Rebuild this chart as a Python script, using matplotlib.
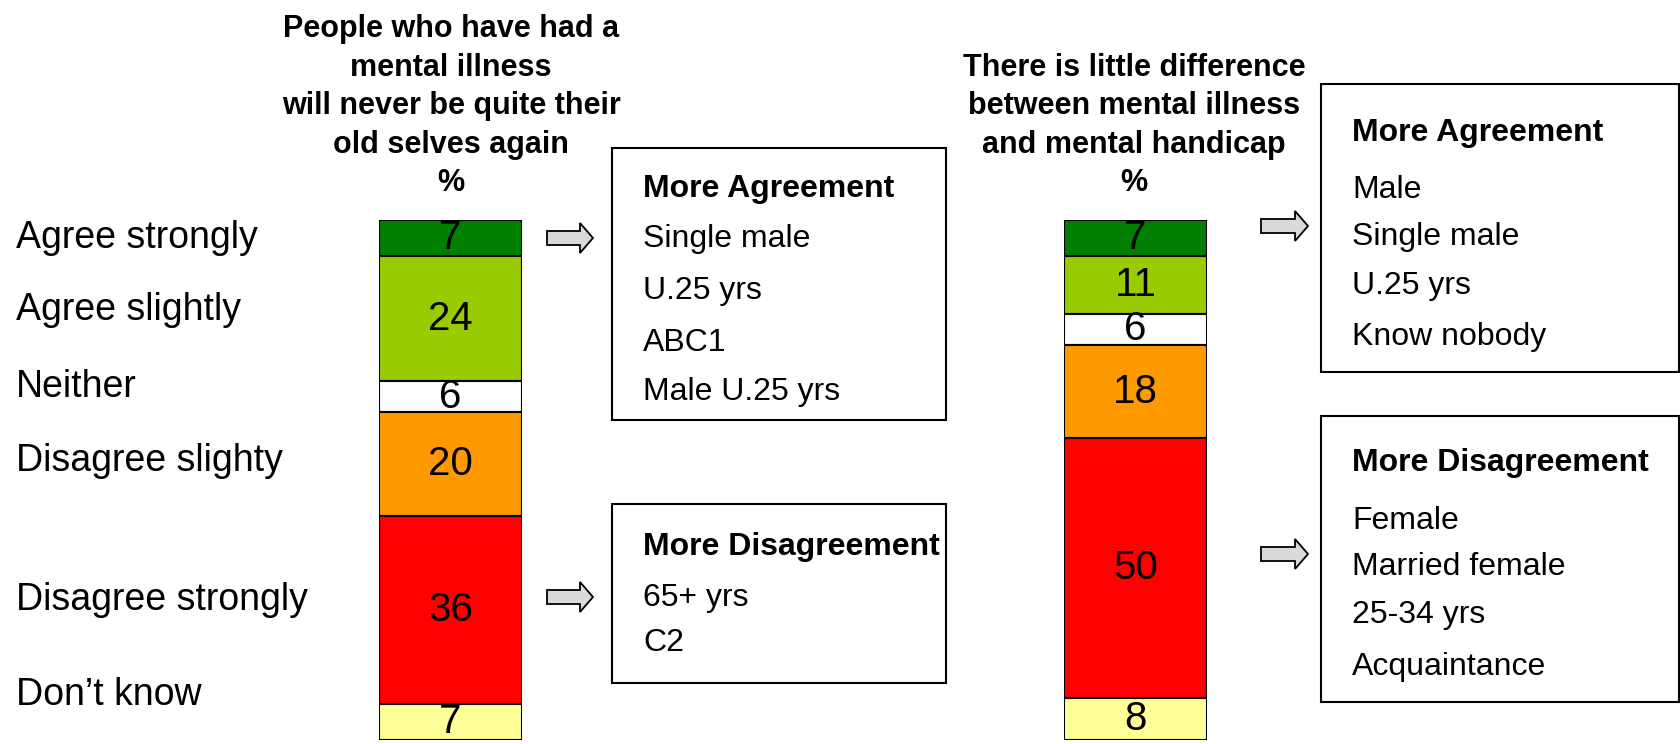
import matplotlib
matplotlib.use('Agg')
import numpy as np
from matplotlib import pyplot as plt
from matplotlib.patches import Rectangle, FancyArrow

plt.rcParams['font.family'] = ['Liberation Sans', 'DejaVu Sans']

# data
categories = ['Agree strongly', 'Agree slightly', 'Neither', 'Disagree slighty',
              'Disagree strongly', 'Don\u2019t know']
left_values = [7, 24, 6, 20, 36, 7]
right_values = [7, 11, 6, 18, 50, 8]
seg_colors = ['#008000', '#99cc00', '#ffffff', '#ff9900', '#ff0000', '#ffff99']

left_title = ['People who have had a', 'mental illness', 'will never be quite their',
              'old selves again', '%']
right_title = ['There is little difference', 'between mental illness',
               'and mental handicap', '%']

left_agree = ['Single male', 'U.25 yrs', 'ABC1', 'Male U.25 yrs']
left_disagree = ['65+ yrs', 'C2']
right_agree = ['Male', 'Single male', 'U.25 yrs', 'Know nobody']
right_disagree = ['Female', 'Married female', '25-34 yrs', 'Acquaintance']

W, H = 1681, 744
fig = plt.figure(figsize=(W / 100, H / 100), dpi=100)
ax = fig.add_axes([0, 0, 1, 1])
ax.set_xlim(0, W)
ax.set_ylim(H, 0)
ax.axis('off')


def stacked_bar(x0, x1, y0, y1, values):
    bax = fig.add_axes([x0 / W, 1 - y1 / H, (x1 - x0) / W, (y1 - y0) / H])
    bottoms = np.concatenate([[0], np.cumsum(values)[:-1]])
    bax.bar([0] * len(values), values, bottom=bottoms, width=1.0, color=seg_colors,
            edgecolor='black', linewidth=1.5)
    for v, b in zip(values, bottoms):
        bax.text(0, b + v / 2, str(v), ha='center', va='center', fontsize=29)
    bax.set_xlim(-0.5, 0.5)
    bax.set_ylim(sum(values), 0)
    bax.axis('off')


stacked_bar(379, 522, 220, 740, left_values)
stacked_bar(1064, 1207, 220, 740, right_values)

# row labels
label_y = [238, 310, 387, 461, 600, 695]
for lab, y in zip(categories, label_y):
    ax.text(16, y, lab, ha='left', va='center', fontsize=27)

# titles
tfont = ['Liberation Sans Narrow', 'Liberation Sans', 'DejaVu Sans']
for lines, cx in [(left_title, 451), (right_title, 1134)]:
    n = len(lines)
    for i, t in enumerate(lines):
        ax.text(cx, 183 - (n - 1 - i) * 38.5, t, ha='center', va='center',
                fontsize=22, fontweight='bold', family=tfont)


def note_box(x0, y0, x1, y1, head, items, ys):
    ax.add_patch(Rectangle((x0, y0), x1 - x0, y1 - y0, fill=False,
                           edgecolor='black', linewidth=1.5))
    ax.text(x0 + 31, ys[0], head, ha='left', va='center', fontsize=23, fontweight='bold')
    for t, y in zip(items, ys[1:]):
        ax.text(x0 + 31, y, t, ha='left', va='center', fontsize=23)


note_box(612, 148, 946, 420, 'More Agreement', left_agree, [189, 239, 291, 343, 392])
note_box(612, 504, 946, 683, 'More Disagreement', left_disagree, [547, 598, 643])
note_box(1321, 84, 1679, 372, 'More Agreement', right_agree, [133, 190, 237, 286, 337])
note_box(1321, 416, 1679, 702, 'More Disagreement', right_disagree, [463, 521, 567, 615, 667])


def block_arrow(x0, x1, y):
    ax.add_patch(FancyArrow(x0, y, x1 - x0, 0, width=14, head_width=30, head_length=13,
                            length_includes_head=True, facecolor='#d9d9d9',
                            edgecolor='black', linewidth=1.3))


block_arrow(547, 593, 238)
block_arrow(547, 593, 597)
block_arrow(1261, 1308, 226)
block_arrow(1261, 1308, 554)

fig.savefig('out.png', dpi=100)
